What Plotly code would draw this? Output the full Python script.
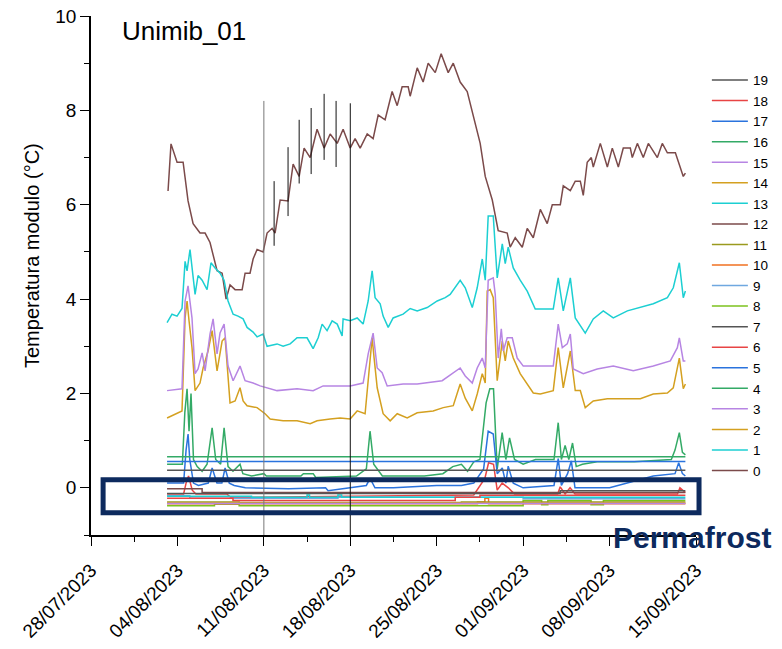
import plotly.graph_objects as go
import pandas as pd

# Time values are days since 28/07/2023 00:00
BASE = "2023-07-28"

t0 = [6.24,6.48,6.97,7.46,7.86,8.27,8.83,9.24,9.64,10.21,10.62,10.94,11.26,11.67,12.24,12.48,12.88,13.13,13.45,13.94,
      14.26,14.67,14.91,15.32,15.96,16.37,16.86,17.26,17.75,18.31,18.88,19.37,19.94,20.42,20.99,21.39,21.80,22.37,22.85,23.26,
      23.82,24.39,24.80,25.20,25.69,25.85,26.42,26.90,27.31,27.88,28.36,28.93,29.34,29.90,30.47,30.96,31.52,31.93,32.50,32.98,
      33.71,33.95,34.36,34.93,35.33,35.82,36.39,36.95,37.36,38.01,38.25,38.82,39.22,39.63,39.87,40.19,40.52,40.68,41.25,41.82,
      42.22,42.71,43.11,43.68,43.84,44.25,44.73,45.14,45.87,46.27,46.68,47.33,47.73,47.97,48.14]
v0 = [6.29,7.29,6.9,6.9,6.08,5.6,5.4,5.4,5.2,4.6,4.55,4.0,4.3,4.2,4.2,4.55,4.55,4.85,5.05,5.0,
      5.4,5.5,5.4,6.1,6.08,6.86,6.6,7.2,7.0,7.6,7.2,7.5,7.3,7.6,7.2,7.4,7.2,7.5,7.4,7.9,
      7.8,8.4,8.1,8.5,8.5,8.3,8.9,8.6,9.0,8.8,9.2,8.8,9.0,8.6,8.4,7.9,7.3,6.6,6.1,5.45,
      5.4,5.1,5.3,5.1,5.5,5.3,5.9,5.6,6.0,6.0,6.4,6.3,6.5,6.5,6.2,6.9,7.0,6.8,7.3,6.8,
      7.2,6.8,7.2,7.2,7.0,7.3,7.0,7.3,7.0,7.3,7.1,7.1,6.8,6.6,6.67]

t1 = [6.16,6.56,6.97,7.37,7.62,7.78,8.02,8.27,8.43,8.67,9.0,9.40,9.72,10.05,10.45,10.78,11.10,11.51,11.91,12.32,
      12.64,13.13,13.45,13.94,14.26,15.07,15.56,16.13,16.69,17.50,17.99,18.40,18.72,19.12,19.53,19.94,20.34,20.42,20.99,21.56,
      22.04,22.45,22.77,23.01,23.42,23.66,24.07,24.47,25.28,25.85,26.42,27.23,28.04,28.69,29.09,29.90,30.31,30.88,31.28,31.69,
      31.93,32.17,32.58,32.90,33.31,33.55,33.79,34.20,34.76,35.33,35.98,36.63,37.44,37.84,38.25,38.82,39.22,40.03,40.68,41.49,
      42.30,43.44,44.49,45.54,46.68,47.16,47.65,47.97,48.14]
v1 = [3.5,3.68,3.64,3.8,4.8,4.6,5.05,4.45,4.1,4.5,4.4,4.2,4.77,4.66,4.55,4.4,3.96,3.68,3.64,3.58,
      3.4,3.3,3.2,3.26,3.0,3.05,3.0,3.05,3.18,3.18,2.95,3.18,3.47,3.33,3.54,3.47,3.22,3.58,3.54,3.6,
      3.47,3.96,4.6,4.03,3.9,3.64,3.4,3.6,3.68,3.8,3.75,3.82,3.96,4.03,4.1,4.4,4.24,3.82,4.24,4.85,
      4.4,5.76,5.76,4.45,5.17,4.75,5.1,4.66,4.4,4.17,3.79,3.79,3.79,4.45,3.75,4.45,3.6,3.28,3.58,3.75,
      3.6,3.75,3.82,3.9,4.03,4.24,4.77,4.03,4.17]

t2 = [6.16,7.37,7.62,7.78,7.94,8.18,8.43,8.83,9.08,9.48,9.81,10.21,10.62,10.86,11.26,11.67,12.07,12.32,12.64,13.45,
      14.10,14.51,15.56,16.69,17.75,18.31,19.37,20.18,20.99,21.56,22.20,22.45,22.77,22.93,23.18,23.66,24.23,24.80,25.61,26.42,
      27.71,28.53,29.34,29.90,30.31,30.88,31.28,31.69,31.93,32.09,32.33,32.58,32.90,33.31,33.55,33.79,34.20,34.76,35.33,35.82,
      36.39,37.44,37.84,38.25,38.82,39.22,39.63,40.03,40.68,41.82,42.87,44.49,45.54,46.68,47.16,47.65,47.97,48.14]
v2 = [1.48,1.63,3.6,3.96,3.54,2.97,2.06,2.22,2.54,2.9,3.33,2.48,3.11,3.18,1.8,1.84,2.12,1.84,1.74,1.7,
      1.57,1.46,1.42,1.42,1.36,1.42,1.46,1.48,1.46,1.63,1.57,2.27,3.18,2.75,2.12,1.57,1.42,1.57,1.48,1.59,
      1.63,1.7,1.74,2.2,1.9,1.63,1.99,2.42,2.22,4.17,4.2,4.03,2.27,3.11,2.69,3.11,2.75,2.42,2.2,2.01,
      1.99,2.06,2.97,2.12,2.9,2.06,2.06,1.7,1.84,1.89,1.89,1.89,1.99,2.01,2.12,2.75,2.1,2.2]

t3 = [6.16,7.37,7.62,7.86,8.18,8.43,8.67,9.0,9.24,9.64,9.89,10.21,10.45,10.78,11.10,11.51,12.07,12.48,13.13,13.70,
      15.07,16.69,17.99,18.80,19.94,20.99,22.04,22.45,22.85,23.18,23.58,23.99,25.28,26.42,28.44,29.90,30.31,30.88,31.28,31.69,
      31.93,32.17,32.58,32.74,32.98,33.23,33.39,33.71,34.12,34.52,35.01,35.82,37.44,37.84,38.17,38.57,38.82,39.06,39.87,41.00,
      42.30,43.92,45.54,46.92,47.49,47.65,47.97,48.14]
v3 = [2.06,2.1,3.96,4.28,3.6,2.42,2.52,2.86,2.48,3.26,3.58,2.84,3.28,3.47,2.58,2.27,2.58,2.27,2.22,2.16,
      2.06,2.1,2.06,2.16,2.16,2.16,2.22,2.84,3.28,2.54,2.44,2.16,2.2,2.2,2.27,2.54,2.37,2.22,2.54,2.75,
      2.54,4.4,4.45,4.1,2.75,3.37,2.9,3.18,3.18,2.75,2.58,2.58,2.58,3.47,2.97,3.05,3.26,2.52,2.42,2.52,
      2.58,2.48,2.58,2.69,2.97,3.18,2.69,2.69]

t4 = [6.16,7.4,7.6,7.78,7.94,8.1,8.3,8.6,9.0,9.4,9.81,10.1,10.5,10.78,11.1,11.5,12.07,12.3,13.0,14.0,
      14.2,17.0,17.2,18.0,18.2,21.5,22.3,22.6,22.9,23.3,23.6,27.0,28.5,29.3,30.0,30.5,31.0,31.5,32.0,32.3,
      32.6,32.9,33.3,33.6,33.9,34.3,35.0,36.0,37.5,37.84,38.1,38.4,38.7,39.0,39.3,39.8,41.0,44.0,47.0,47.3,
      47.65,47.9,48.14]
v4 = [0.5,0.5,1.6,2.1,1.2,2.0,0.6,0.45,0.35,0.5,1.27,0.6,0.5,1.27,0.45,0.35,0.5,0.3,0.25,0.3,
      0.25,0.25,0.3,0.3,0.22,0.25,0.4,1.2,0.5,0.35,0.25,0.25,0.3,0.45,0.5,0.35,0.55,0.6,1.8,2.1,
      2.1,0.4,1.17,0.6,1.06,0.6,0.5,0.6,0.6,1.38,0.6,0.9,0.6,0.95,0.45,0.5,0.55,0.55,0.6,0.8,
      1.17,0.75,0.7]

t5 = [6.16,7.5,7.7,7.86,8.0,8.3,8.7,9.5,9.81,10.2,10.6,10.86,11.2,11.6,12.5,16.0,19.0,19.2,22.3,22.6,
      23.0,24.5,28.0,30.0,31.0,31.8,32.17,32.58,32.9,33.31,33.6,33.79,34.2,35.0,37.5,37.84,38.1,38.6,38.9,39.2,
      42.0,45.54,47.3,47.6,47.9,48.14]
v5 = [0.1,0.1,0.8,1.14,0.6,0.1,0.05,0.1,0.42,0.1,0.1,0.42,0.1,0.05,0.0,-0.02,0.0,-0.06,0.05,0.2,
      0.0,0.0,0.05,0.05,0.1,0.4,1.2,1.14,0.3,0.42,0.1,0.46,0.1,0.0,0.05,0.62,0.05,0.3,0.57,0.0,
      0.0,0.25,0.3,0.53,0.3,0.25]

t6 = [6.16,7.5,7.7,7.9,8.2,8.5,11.0,11.3,13.0,30.0,31.0,31.9,32.2,32.6,32.9,33.3,33.8,34.3,37.8,38.0,
      38.4,38.8,39.2,47.5,47.7,48.14]
v6 = [-0.13,-0.13,0.1,0.25,-0.05,-0.13,-0.13,-0.2,-0.2,-0.15,-0.15,0.2,0.53,0.5,-0.05,0.1,0.0,-0.13,-0.13,0.02,
      -0.13,0.0,-0.13,-0.13,0.0,-0.1]

t7 = [6.16,48.14]
v7 = [0.37,0.37]
t8 = [6.16,10.0,12.0,35.0,36.5,37.0,40.0,40.5,41.5,48.14]
v8 = [-0.38,-0.35,-0.38,-0.27,-0.36,-0.27,-0.27,-0.36,-0.27,-0.27]
t9 = [6.16,8.0,20.0,35.0,48.14]
v9 = [-0.17,-0.22,-0.2,-0.23,-0.23]
t10 = [6.16,31.3,31.9,32.2,48.14]
v10 = [-0.34,-0.3,-0.22,-0.34,-0.34]
t11 = [6.16,12.0,30.0,48.14]
v11 = [-0.3,-0.31,-0.3,-0.3]
t12 = [6.16,9.0,48.14]
v12 = [-0.02,-0.1,-0.1]
t13 = [6.16,13.0,17.5,17.7,20.0,20.3,48.14]
v13 = [-0.18,-0.2,-0.15,-0.2,-0.15,-0.2,-0.2]
t14 = [6.16,48.14]
v14 = [-0.32,-0.32]
t15 = [6.16,48.14]
v15 = [-0.33,-0.33]
t16 = [6.16,48.14]
v16 = [0.66,0.66]
t17 = [6.16,48.14]
v17 = [0.56,0.56]
t18 = [6.16,11.5,29.5,31.5,48.14]
v18 = [-0.22,-0.27,-0.2,-0.16,-0.16]
t19 = [6.16,38.0,48.14]
v19 = [-0.12,-0.06,-0.06]

# isolated vertical spikes (day, low, high)
spike_gray = [(14.0, -1.0, 8.2)]
spike_black = [(14.83, 5.13, 6.5), (15.96, 5.76, 7.22), (16.86, 6.45, 7.8), (17.83, 6.65, 8.05),
               (18.88, 6.95, 8.35), (19.85, 6.8, 8.2), (21.0, -1.0, 8.15)]

series_t = [t0,t1,t2,t3,t4,t5,t6,t7,t8,t9,t10,t11,t12,t13,t14,t15,t16,t17,t18,t19]
series_v = [v0,v1,v2,v3,v4,v5,v6,v7,v8,v9,v10,v11,v12,v13,v14,v15,v16,v17,v18,v19]
names = [str(i) for i in range(20)]
colors = ["#7b4a4a","#1ccfd2","#d4a020","#b785e3","#33aa66","#2a73dd","#e84444","#555555",
          "#7cc21e","#6fa8e0","#f07020","#9a9a1e",
          "#7b4a4a","#1ccfd2","#d4a020","#b785e3","#33aa66","#2a73dd","#e84444","#555555"]
shapes_hv = {7,8,9,10,11,12,13,14,15,16,17,18,19}

base = pd.Timestamp(BASE)
def todate(days):
    return [None if d is None else base + pd.Timedelta(days=d) for d in days]

fig = go.Figure()
for i in range(20):
    fig.add_trace(go.Scatter(
        x=todate(series_t[i]), y=series_v[i], name=names[i], mode="lines",
        line=dict(color=colors[i], width=1.5, shape="hv" if i in shapes_hv else "linear")))

def spike_xy(sp):
    xs, ys = [], []
    for d, lo, hi in sp:
        xs += [d, d, None]
        ys += [lo, hi, None]
    return todate(xs), ys

sx, sy = spike_xy(spike_gray)
fig.add_trace(go.Scatter(x=sx, y=sy, mode="lines", showlegend=False,
                         line=dict(color="#777777", width=1)))
sx, sy = spike_xy(spike_black)
fig.add_trace(go.Scatter(x=sx, y=sy, mode="lines", showlegend=False,
                         line=dict(color="#111111", width=1)))

FONT = "Liberation Sans, Arial, sans-serif"
fig.update_layout(
    width=782, height=649,
    margin=dict(l=91, r=86, t=16, b=114, autoexpand=False),
    paper_bgcolor="white", plot_bgcolor="white",
    font=dict(family=FONT, color="black"),
    showlegend=True,
    legend=dict(x=1.018, y=0.906, xanchor="left", yanchor="top", traceorder="reversed",
                font=dict(size=13.5, family=FONT), bgcolor="rgba(0,0,0,0)", itemwidth=36),
    xaxis=dict(
        type="date", range=[base, base + pd.Timedelta(days=49)],
        tick0=base, dtick=7*86400000, tickformat="%d/%m/%Y", tickangle=-45,
        ticks="outside", ticklen=9, tickwidth=1.3, tickcolor="black",
        showline=True, linecolor="black", linewidth=1.5, showgrid=False, zeroline=False,
        tickfont=dict(size=19, family=FONT), ticklabelstandoff=6,
        minor=dict(ticks="outside", ticklen=5, tickwidth=1, tickcolor="black",
                   dtick=3.5*86400000, tick0=base, showgrid=False),
    ),
    yaxis=dict(
        range=[-1, 10], dtick=2, ticks="outside", ticklen=9, tickwidth=1.3, tickcolor="black",
        showline=True, linecolor="black", linewidth=1.5, showgrid=False, zeroline=False,
        tickfont=dict(size=19, family=FONT),
        minor=dict(ticks="outside", ticklen=5, tickwidth=1, tickcolor="black", dtick=1, showgrid=False),
    ),
)

fig.add_annotation(text="Temperatura modulo (°C)", xref="paper", yref="paper",
                   x=-0.0975, y=0.5376, xanchor="center", yanchor="middle", textangle=-90,
                   showarrow=False, font=dict(size=20, family=FONT, color="black"))
fig.add_annotation(text="Unimib_01", xref="paper", yref="paper", x=0.048, y=0.972,
                   xanchor="left", yanchor="middle", showarrow=False,
                   font=dict(size=26, family=FONT, color="black"))
fig.add_annotation(text="<b>Permafrost</b>", xref="paper", yref="paper", x=1.128, y=-0.004,
                   xanchor="right", yanchor="middle", showarrow=False,
                   font=dict(size=30, family=FONT, color="#0d2a5e"))
fig.add_shape(type="rect", xref="paper", yref="y", x0=0.02, x1=1.005, y0=-0.53, y1=0.17,
              line=dict(color="#0d2a5e", width=5), layer="above")

fig.write_html("out.html")
